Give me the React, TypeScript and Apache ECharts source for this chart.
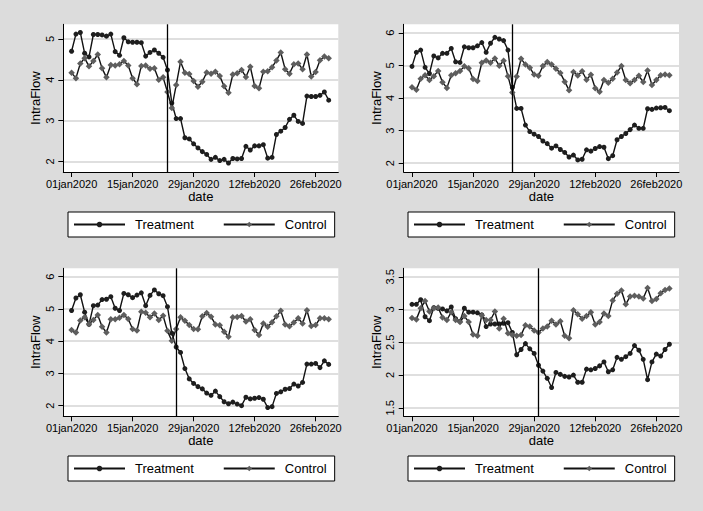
import React, { useEffect, useRef } from "react";
import * as echarts from "echarts";

// Day index 0 = 01jan2020 ... 59 = 29feb2020
const xTickDays = [0, 14, 28, 42, 56];
const xTickLabels = ["01jan2020", "15jan2020", "29jan2020", "12feb2020", "26feb2020"];

const treatment1 = [4.70,5.12,5.16,4.65,4.56,5.11,5.11,5.10,5.07,5.12,4.69,4.60,5.03,4.93,4.92,4.92,4.91,4.58,4.67,4.73,4.65,4.55,4.24,3.43,3.05,3.05,2.58,2.55,2.43,2.33,2.24,2.17,2.05,2.10,2.02,2.05,1.96,2.07,2.06,2.07,2.37,2.28,2.38,2.38,2.41,2.08,2.10,2.66,2.74,2.83,3.03,3.13,2.98,2.93,3.60,3.59,3.59,3.62,3.70,3.50];
const control1 = [4.17,4.04,4.40,4.53,4.33,4.46,4.62,4.28,4.06,4.36,4.35,4.38,4.46,4.35,4.04,3.89,4.34,4.35,4.27,4.28,4.00,4.06,3.70,3.31,3.87,4.44,4.17,4.14,3.97,3.83,3.95,4.18,4.15,4.20,4.09,3.84,3.68,4.13,4.16,4.24,4.07,4.32,3.85,3.79,4.20,4.21,4.31,4.47,4.67,4.26,4.15,4.38,4.40,4.26,4.62,4.08,4.19,4.48,4.57,4.53];

const treatment2 = [4.97,5.40,5.47,4.94,4.75,5.29,5.23,5.37,5.37,5.52,5.11,5.09,5.57,5.54,5.54,5.60,5.70,5.40,5.68,5.86,5.81,5.76,5.47,4.33,3.68,3.68,3.17,2.97,2.89,2.82,2.68,2.60,2.46,2.53,2.42,2.33,2.19,2.25,2.10,2.12,2.41,2.37,2.45,2.51,2.49,2.14,2.23,2.72,2.82,2.91,3.03,3.17,3.07,3.07,3.67,3.65,3.69,3.70,3.71,3.61];
const control2 = [4.33,4.25,4.59,4.70,4.55,4.67,4.83,4.48,4.31,4.70,4.76,4.83,4.97,4.91,4.58,4.52,5.08,5.15,5.08,5.21,4.99,5.14,4.67,4.17,4.66,5.20,5.03,4.93,4.72,4.68,4.98,5.10,5.03,4.90,4.77,4.50,4.24,4.80,4.69,4.82,4.56,4.71,4.30,4.19,4.55,4.47,4.59,4.78,4.98,4.55,4.45,4.55,4.68,4.49,4.84,4.40,4.55,4.70,4.72,4.70];

const treatment3 = [4.95,5.34,5.44,4.90,4.52,5.10,5.12,5.29,5.30,5.38,5.02,4.95,5.48,5.44,5.35,5.43,5.50,5.10,5.42,5.59,5.47,5.41,5.07,4.25,3.82,3.65,3.15,2.83,2.69,2.59,2.52,2.39,2.32,2.45,2.28,2.12,2.06,2.11,2.05,2.00,2.26,2.21,2.23,2.25,2.20,1.94,1.97,2.38,2.43,2.51,2.53,2.67,2.61,2.72,3.29,3.29,3.31,3.18,3.39,3.28];
const control3 = [4.35,4.27,4.64,4.74,4.53,4.66,4.81,4.45,4.27,4.68,4.68,4.73,4.81,4.69,4.38,4.33,4.91,4.88,4.74,4.86,4.66,4.79,4.32,4.01,4.38,4.74,4.63,4.50,4.38,4.37,4.77,4.87,4.76,4.52,4.49,4.29,4.14,4.74,4.75,4.78,4.61,4.68,4.35,4.19,4.55,4.45,4.59,4.77,4.94,4.52,4.46,4.58,4.71,4.55,4.96,4.47,4.50,4.71,4.71,4.68];

const treatment4 = [3.08,3.08,3.15,2.89,2.83,3.03,3.02,3.01,2.98,3.04,2.86,2.82,3.02,2.96,2.96,2.95,2.92,2.74,2.78,2.78,2.78,2.79,2.80,2.65,2.31,2.39,2.48,2.40,2.33,2.15,2.06,1.95,1.81,2.04,2.01,1.98,1.97,2.00,1.89,1.89,2.09,2.08,2.10,2.14,2.20,2.05,2.08,2.27,2.24,2.28,2.33,2.45,2.38,2.24,1.93,2.20,2.32,2.29,2.39,2.47];
const control4 = [2.87,2.85,3.02,3.13,2.97,3.02,3.03,2.88,2.84,2.96,2.84,2.81,2.90,2.81,2.62,2.60,2.91,2.84,2.84,2.97,2.71,2.86,2.64,2.61,2.60,2.61,2.76,2.74,2.68,2.65,2.71,2.74,2.83,2.77,2.82,2.60,2.56,2.99,2.93,2.86,2.90,2.96,2.77,2.81,2.94,2.90,3.14,3.24,3.29,3.08,3.20,3.21,3.20,3.17,3.33,3.13,3.16,3.25,3.30,3.32];

const yTicks1 = [2, 3, 4, 5];
const yTicks2 = [2, 3, 4, 5, 6];
const yTicks3 = [2, 3, 4, 5, 6];
const yTicks4 = [1.5, 2, 2.5, 3, 3.5];

const eventDays = [22, 23, 24, 29];

const seriesNames = ["Treatment", "Control"];

const FONT = "'Liberation Sans', Arial, Helvetica, sans-serif";

const panels = [
  { t: treatment1, c: control1, yTicks: yTicks1, yMin: 1.74, yMax: 5.36, ev: eventDays[0], grid: { left: 63.3, top: 24.3, width: 275, height: 147.7 }, legend: { left: 68, top: 212 } },
  { t: treatment2, c: control2, yTicks: yTicks2, yMin: 1.73, yMax: 6.26, ev: eventDays[1], grid: { left: 403.7, top: 24.3, width: 275.3, height: 147.7 }, legend: { left: 408, top: 212 } },
  { t: treatment3, c: control3, yTicks: yTicks3, yMin: 1.67, yMax: 6.26, ev: eventDays[2], grid: { left: 63.3, top: 268.3, width: 275, height: 148 }, legend: { left: 68, top: 456 } },
  { t: treatment4, c: control4, yTicks: yTicks4, yMin: 1.37, yMax: 3.63, ev: eventDays[3], grid: { left: 403.7, top: 268.3, width: 275.3, height: 148 }, legend: { left: 408, top: 456 } },
];

function buildOption() {
  const grid: any[] = [];
  const xAxis: any[] = [];
  const yAxis: any[] = [];
  const series: any[] = [];
  const legend: any[] = [];
  panels.forEach((p, i) => {
    grid.push({ ...p.grid, containLabel: false, show: true, backgroundColor: "#ffffff", borderWidth: 0 });
    xAxis.push({
      type: "value",
      gridIndex: i,
      min: -1.9,
      max: 61.2,
      name: "date",
      nameLocation: "middle",
      nameGap: 18,
      nameTextStyle: { fontSize: 13, color: "#000", fontFamily: FONT },
      axisLine: { show: true, onZero: false, lineStyle: { color: "#000", width: 1 } },
      axisTick: { show: true, length: 5, lineStyle: { color: "#000" }, customValues: xTickDays },
      axisLabel: {
        fontSize: 11,
        color: "#000",
        fontFamily: FONT,
        margin: 6,
        customValues: xTickDays,
        formatter: (v: number) => {
          const k = xTickDays.indexOf(Math.round(v));
          return k >= 0 ? xTickLabels[k] : "";
        },
      },
      splitLine: { show: false },
    });
    yAxis.push({
      type: "value",
      gridIndex: i,
      min: p.yMin,
      max: p.yMax,
      name: "IntraFlow",
      nameLocation: "middle",
      nameGap: 21,
      nameRotate: 90,
      nameTextStyle: { fontSize: 13, color: "#000", fontFamily: FONT },
      axisLine: { show: true, onZero: false, lineStyle: { color: "#000", width: 1 } },
      axisTick: { show: true, length: 5, lineStyle: { color: "#000" }, customValues: p.yTicks },
      axisLabel: {
        fontSize: 11,
        color: "#000",
        fontFamily: FONT,
        margin: 8,
        rotate: 90,
        customValues: p.yTicks,
        formatter: (v: number) => String(v),
      },
      splitLine: { show: true, lineStyle: { color: "#d4d4d4", width: 1.5 } },
    });
    series.push({
      type: "line",
      name: seriesNames[0],
      xAxisIndex: i,
      yAxisIndex: i,
      data: p.t.map((v, d) => [d, v]),
      symbol: "circle",
      symbolSize: 5,
      showSymbol: true,
      itemStyle: { color: "#1e1e1e" },
      lineStyle: { color: "#111", width: 1.4 },
      z: 3,
      markLine: {
        silent: true,
        symbol: ["none", "none"],
        label: { show: false },
        lineStyle: { color: "#000", width: 1.3, type: "solid" },
        data: [{ xAxis: p.ev }],
      },
    });
    series.push({
      type: "line",
      name: seriesNames[1],
      xAxisIndex: i,
      yAxisIndex: i,
      data: p.c.map((v, d) => [d, v]),
      symbol: "diamond",
      symbolSize: 6.5,
      showSymbol: true,
      itemStyle: { color: "#5e5e5e" },
      lineStyle: { color: "#111", width: 1.4 },
      z: 4,
    });
    legend.push({
      ...p.legend,
      orient: "horizontal",
      padding: [6, 8, 6, 5],
      itemGap: 29,
      itemWidth: 51,
      itemHeight: 7,
      backgroundColor: "#ffffff",
      borderColor: "#000",
      borderWidth: 1,
      borderRadius: 0,
      selectedMode: false,
      textStyle: { fontSize: 13, color: "#000", fontFamily: FONT, padding: [0, 0, 0, 5] },
      data: seriesNames,
    });
  });
  return {
    animation: false,
    backgroundColor: "#dcdcdc",
    grid,
    xAxis,
    yAxis,
    series,
    legend,
  };
}

export default function App() {
  const ref = useRef<HTMLDivElement>(null);
  useEffect(() => {
    if (!ref.current) return;
    const chart = echarts.init(ref.current, undefined, { renderer: "svg" });
    chart.setOption(buildOption() as any);
    return () => chart.dispose();
  }, []);
  return (
    <div
      ref={ref}
      style={{ position: "fixed", left: 0, top: 0, width: 703, height: 511 }}
    />
  );
}
